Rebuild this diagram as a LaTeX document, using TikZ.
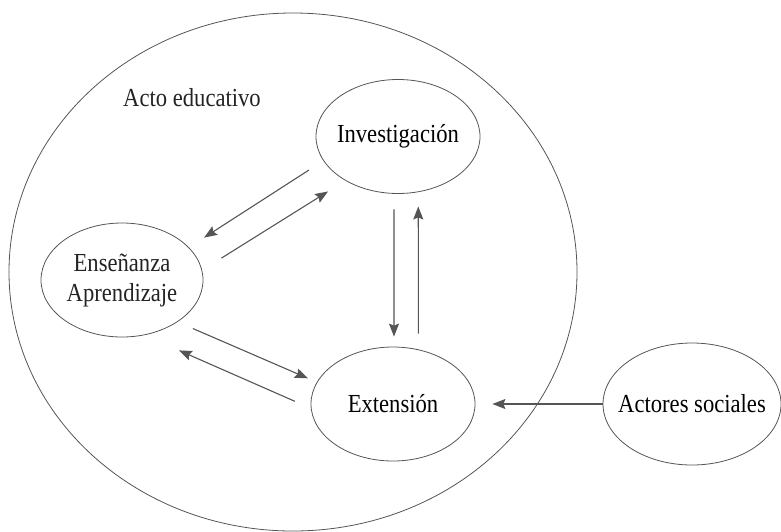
\documentclass[tikz,border=0pt]{standalone}
\usepackage{fontspec}
\setmainfont{Liberation Serif}[FakeStretch=0.87]
\usetikzlibrary{shapes.geometric,arrows.meta,positioning}
\definecolor{linegray}{RGB}{85,85,85}
\definecolor{textgray}{RGB}{35,35,35}

\begin{document}
\begin{tikzpicture}[x=1pt, y=-1pt, >={Stealth[length=13pt,width=10pt,inset=2pt]}, font=\fontsize{26}{30}\selectfont]
	\tikzstyle{blob}=[ellipse, draw=linegray, line width=0.8pt, inner sep=0pt, text=textgray]
	\tikzstyle{flow}=[->, draw=linegray, line width=1.1pt]
	\useasboundingbox (0,0) rectangle (781,531);

	\node[blob, minimum width=568pt, minimum height=518pt] (acto) at (293,272) {};
	\node[text=textgray] (actolbl) at (192,98) {Acto educativo};

	\node[blob, minimum width=164pt, minimum height=114pt, label=center:Investigación] (inv) at (398,136.5) {};
	\node[blob, minimum width=162pt, minimum height=114pt, label={[align=center, text=textgray]center:Enseñanza\\Aprendizaje}] (ens) at (122,280) {};
	\node[blob, minimum width=164pt, minimum height=114pt, label=center:Extensión] (ext) at (393,404) {};
	\node[blob, minimum width=178pt, minimum height=122pt, label=center:Actores sociales] (act) at (692,404) {};

    \path % arrows between the activities
	(inv.198) edge[flow, shorten <=17pt, shorten >=18pt]	(ens.26)
	(ens.7)   edge[flow, shorten <=22.7pt, shorten >=20.4pt]	(inv.220)
	(inv.266) edge[flow, shorten <=15.6pt, shorten >=10pt]	(ext.89)
	(ext.65)  edge[flow, shorten <=15.8pt, shorten >=14.3pt]	(inv.290)
	(ens.323) edge[flow, shorten <=16.6pt, shorten >=9.7pt]	(ext.164)
	(ext.183) edge[flow, shorten <=17.4pt, shorten >=37.8pt]	(ens.292)
	(act.west) edge[flow, shorten >=17pt]	(ext.east);
\end{tikzpicture}
\end{document}
